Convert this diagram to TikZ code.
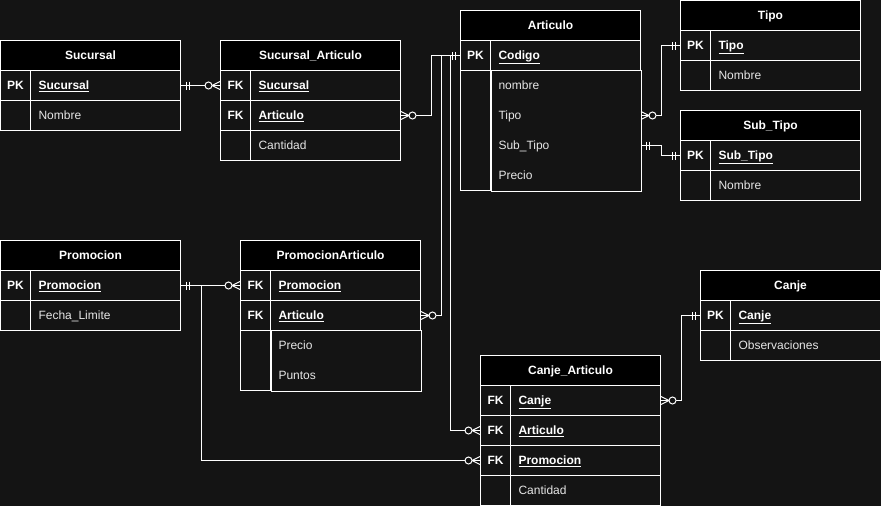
\documentclass[tikz,border=0pt]{standalone}
\usepackage{fontspec}
\setmainfont{Liberation Sans}
\definecolor{bgc}{HTML}{141414}
\definecolor{rowtext}{HTML}{E6E6E6}
\tikzset{
  tbl/.style={draw=white, line width=1pt, minimum height=30pt, inner sep=0pt,
    anchor=north west, text height=10pt, text depth=2pt, text=white,
    font=\fontsize{12}{14}\selectfont},
  hdr/.style={tbl, fill=black, minimum width=180pt, font=\fontsize{12}{14}\selectfont\bfseries},
  keycell/.style={tbl, minimum width=30pt, font=\fontsize{12}{14}\selectfont\bfseries},
  fieldcell/.style={tbl, inner xsep=8pt, text width=134pt, align=left, text=rowtext},
  keyfield/.style={fieldcell, text=white, font=\fontsize{12}{14}\selectfont\bfseries},
  fieldtext/.style={fieldcell, draw=none},
  rel/.style={draw=white, line width=1pt},
  mandone/.pic={\draw[rel] (5,-4) -- (5,4) (8,-4) -- (8,4);},
  zeromany/.pic={\draw[rel] (0,-4) -- (8,0) -- (0,4);
    \draw[rel, fill=bgc] (11.5,0) circle[radius=3.5];}
}
\begin{document}
\begin{tikzpicture}[x=1pt, y=-1pt]
\path[use as bounding box, fill=bgc] (0,0) rectangle (881,506);

% Sucursal
\node[hdr] (suc-h) at (0,40) {Sucursal};
\node[keycell] (suc-k1) at (0,70) {PK};
\node[keyfield] (suc-f1) at (30,70) {\underline{Sucursal}};
\node[keycell] (suc-k2) at (0,100) {};
\node[fieldcell] (suc-f2) at (30,100) {Nombre};

% Sucursal_Articulo
\node[hdr] (sa-h) at (220,40) {Sucursal\_Articulo};
\node[keycell] (sa-k1) at (220,70) {FK};
\node[keyfield] (sa-f1) at (250,70) {\underline{Sucursal}};
\node[keycell] (sa-k2) at (220,100) {FK};
\node[keyfield] (sa-f2) at (250,100) {\underline{Articulo}};
\node[keycell] (sa-k3) at (220,130) {};
\node[fieldcell] (sa-f3) at (250,130) {Cantidad};

% Articulo
\node[hdr] (art-h) at (460,10) {Articulo};
\node[keycell] (art-k1) at (460,40) {PK};
\node[keyfield] (art-f1) at (490,40) {\underline{Codigo}};
\node[keycell, minimum height=120pt] (art-k2) at (460,70) {};
\node[fieldtext] (art-f2) at (490,70) {nombre};
\node[fieldtext] (art-f3) at (490,100) {Tipo};
\node[fieldtext] (art-f4) at (490,130) {Sub\_Tipo};
\node[fieldtext] (art-f5) at (490,160) {Precio};
\draw[rel] (art-k2.north east) rectangle (art-f5.south east);

% Tipo
\node[hdr] (tipo-h) at (680,0) {Tipo};
\node[keycell] (tipo-k1) at (680,30) {PK};
\node[keyfield] (tipo-f1) at (710,30) {\underline{Tipo}};
\node[keycell] (tipo-k2) at (680,60) {};
\node[fieldcell] (tipo-f2) at (710,60) {Nombre};

% Sub_Tipo
\node[hdr] (st-h) at (680,110) {Sub\_Tipo};
\node[keycell] (st-k1) at (680,140) {PK};
\node[keyfield] (st-f1) at (710,140) {\underline{Sub\_Tipo}};
\node[keycell] (st-k2) at (680,170) {};
\node[fieldcell] (st-f2) at (710,170) {Nombre};

% Promocion
\node[hdr] (pro-h) at (0,240) {Promocion};
\node[keycell] (pro-k1) at (0,270) {PK};
\node[keyfield] (pro-f1) at (30,270) {\underline{Promocion}};
\node[keycell] (pro-k2) at (0,300) {};
\node[fieldcell] (pro-f2) at (30,300) {Fecha\_Limite};

% PromocionArticulo
\node[hdr] (pa-h) at (240,240) {PromocionArticulo};
\node[keycell] (pa-k1) at (240,270) {FK};
\node[keyfield] (pa-f1) at (270,270) {\underline{Promocion}};
\node[keycell] (pa-k2) at (240,300) {FK};
\node[keyfield] (pa-f2) at (270,300) {\underline{Articulo}};
\node[keycell, minimum height=60pt] (pa-k3) at (240,330) {};
\node[fieldtext] (pa-f3) at (270,330) {Precio};
\node[fieldtext] (pa-f4) at (270,360) {Puntos};
\draw[rel] (pa-k3.north east) rectangle (pa-f4.south east);

% Canje
\node[hdr] (canje-h) at (700,270) {Canje};
\node[keycell] (canje-k1) at (700,300) {PK};
\node[keyfield] (canje-f1) at (730,300) {\underline{Canje}};
\node[keycell] (canje-k2) at (700,330) {};
\node[fieldcell] (canje-f2) at (730,330) {Observaciones};

% Canje_Articulo
\node[hdr] (ca-h) at (480,355) {Canje\_Articulo};
\node[keycell] (ca-k1) at (480,385) {FK};
\node[keyfield] (ca-f1) at (510,385) {\underline{Canje}};
\node[keycell] (ca-k2) at (480,415) {FK};
\node[keyfield] (ca-f2) at (510,415) {\underline{Articulo}};
\node[keycell] (ca-k3) at (480,445) {FK};
\node[keyfield] (ca-f3) at (510,445) {\underline{Promocion}};
\node[keycell] (ca-k4) at (480,475) {};
\node[fieldcell] (ca-f4) at (510,475) {Cantidad};

% relations
\draw[rel] (suc-f1.east) -- (sa-k1.west);
\draw[rel] (sa-f2.east) -- ++(30,0) |- (art-k1.west);
\draw[rel] (pa-f2.east) -- ++(20,0) |- (art-k1.west);
\draw[rel] (art-k1.west) -- ++(-10,0) |- (ca-k2.west);
\draw[rel] (art-f3.east) -- ++(20,0) |- (tipo-k1.west);
\draw[rel] (art-f4.east) -- ++(20,0) |- (st-k1.west);
\draw[rel] (pro-f1.east) -- (pa-k1.west);
\draw[rel] (pro-f1.east) -- ++(20,0) |- (ca-k3.west);
\draw[rel] (ca-f1.east) -- ++(20,0) |- (canje-k1.west);

\pic at (suc-f1.east) {mandone};
\pic[rotate=180] at (sa-k1.west) {zeromany};
\pic at (sa-f2.east) {zeromany};
\pic[rotate=180] at (art-k1.west) {mandone};
\pic at (pa-f2.east) {zeromany};
\pic[rotate=180] at (ca-k2.west) {zeromany};
\pic at (art-f3.east) {zeromany};
\pic[rotate=180] at (tipo-k1.west) {mandone};
\pic at (art-f4.east) {mandone};
\pic[rotate=180] at (st-k1.west) {mandone};
\pic at (pro-f1.east) {mandone};
\pic[rotate=180] at (pa-k1.west) {zeromany};
\pic[rotate=180] at (ca-k3.west) {zeromany};
\pic at (ca-f1.east) {zeromany};
\pic[rotate=180] at (canje-k1.west) {mandone};
\end{tikzpicture}
\end{document}
